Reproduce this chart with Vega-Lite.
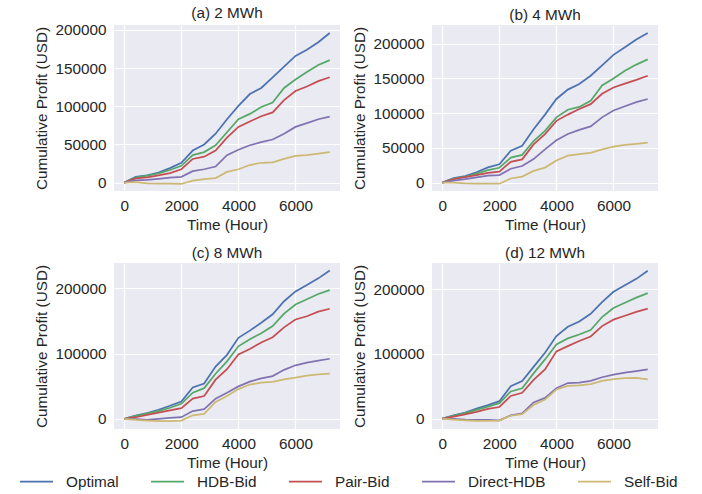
{
"$schema": "https://vega.github.io/schema/vega-lite/v6.json",
"background": "white",
"padding": {"left": 19, "top": 5, "right": 5, "bottom": 5},
"datasets": {"d": [
{"p":"a","s":"Optimal","t":0,"v":0},{"p":"a","s":"Optimal","t":400,"v":7500},{"p":"a","s":"Optimal","t":800,"v":9500},{"p":"a","s":"Optimal","t":1200,"v":13000},{"p":"a","s":"Optimal","t":1600,"v":19000},{"p":"a","s":"Optimal","t":2000,"v":26000},{"p":"a","s":"Optimal","t":2400,"v":42000},{"p":"a","s":"Optimal","t":2800,"v":50000},{"p":"a","s":"Optimal","t":3200,"v":64000},{"p":"a","s":"Optimal","t":3600,"v":83000},{"p":"a","s":"Optimal","t":4000,"v":100500},{"p":"a","s":"Optimal","t":4400,"v":116000},{"p":"a","s":"Optimal","t":4800,"v":124000},{"p":"a","s":"Optimal","t":5200,"v":138000},{"p":"a","s":"Optimal","t":5600,"v":152000},{"p":"a","s":"Optimal","t":6000,"v":166000},{"p":"a","s":"Optimal","t":6400,"v":174000},{"p":"a","s":"Optimal","t":6800,"v":184000},{"p":"a","s":"Optimal","t":7200,"v":196000},
{"p":"a","s":"HDB-Bid","t":0,"v":0},{"p":"a","s":"HDB-Bid","t":400,"v":6500},{"p":"a","s":"HDB-Bid","t":800,"v":9000},{"p":"a","s":"HDB-Bid","t":1200,"v":12000},{"p":"a","s":"HDB-Bid","t":1600,"v":16500},{"p":"a","s":"HDB-Bid","t":2000,"v":22000},{"p":"a","s":"HDB-Bid","t":2400,"v":36000},{"p":"a","s":"HDB-Bid","t":2800,"v":40000},{"p":"a","s":"HDB-Bid","t":3200,"v":49000},{"p":"a","s":"HDB-Bid","t":3600,"v":66000},{"p":"a","s":"HDB-Bid","t":4000,"v":83000},{"p":"a","s":"HDB-Bid","t":4400,"v":90000},{"p":"a","s":"HDB-Bid","t":4800,"v":99000},{"p":"a","s":"HDB-Bid","t":5200,"v":105000},{"p":"a","s":"HDB-Bid","t":5600,"v":124000},{"p":"a","s":"HDB-Bid","t":6000,"v":135000},{"p":"a","s":"HDB-Bid","t":6400,"v":145000},{"p":"a","s":"HDB-Bid","t":6800,"v":154000},{"p":"a","s":"HDB-Bid","t":7200,"v":160500},
{"p":"a","s":"Pair-Bid","t":0,"v":0},{"p":"a","s":"Pair-Bid","t":400,"v":5500},{"p":"a","s":"Pair-Bid","t":800,"v":7000},{"p":"a","s":"Pair-Bid","t":1200,"v":9500},{"p":"a","s":"Pair-Bid","t":1600,"v":12500},{"p":"a","s":"Pair-Bid","t":2000,"v":17500},{"p":"a","s":"Pair-Bid","t":2400,"v":31000},{"p":"a","s":"Pair-Bid","t":2800,"v":34000},{"p":"a","s":"Pair-Bid","t":3200,"v":42000},{"p":"a","s":"Pair-Bid","t":3600,"v":59000},{"p":"a","s":"Pair-Bid","t":4000,"v":73000},{"p":"a","s":"Pair-Bid","t":4400,"v":80000},{"p":"a","s":"Pair-Bid","t":4800,"v":87000},{"p":"a","s":"Pair-Bid","t":5200,"v":92000},{"p":"a","s":"Pair-Bid","t":5600,"v":108000},{"p":"a","s":"Pair-Bid","t":6000,"v":120000},{"p":"a","s":"Pair-Bid","t":6400,"v":126000},{"p":"a","s":"Pair-Bid","t":6800,"v":133000},{"p":"a","s":"Pair-Bid","t":7200,"v":138000},
{"p":"a","s":"Direct-HDB","t":0,"v":0},{"p":"a","s":"Direct-HDB","t":400,"v":3000},{"p":"a","s":"Direct-HDB","t":800,"v":3500},{"p":"a","s":"Direct-HDB","t":1200,"v":5000},{"p":"a","s":"Direct-HDB","t":1600,"v":6500},{"p":"a","s":"Direct-HDB","t":2000,"v":7500},{"p":"a","s":"Direct-HDB","t":2400,"v":15000},{"p":"a","s":"Direct-HDB","t":2800,"v":17500},{"p":"a","s":"Direct-HDB","t":3200,"v":21000},{"p":"a","s":"Direct-HDB","t":3600,"v":36000},{"p":"a","s":"Direct-HDB","t":4000,"v":43000},{"p":"a","s":"Direct-HDB","t":4400,"v":49000},{"p":"a","s":"Direct-HDB","t":4800,"v":53000},{"p":"a","s":"Direct-HDB","t":5200,"v":56500},{"p":"a","s":"Direct-HDB","t":5600,"v":64000},{"p":"a","s":"Direct-HDB","t":6000,"v":73000},{"p":"a","s":"Direct-HDB","t":6400,"v":78000},{"p":"a","s":"Direct-HDB","t":6800,"v":83000},{"p":"a","s":"Direct-HDB","t":7200,"v":86500},
{"p":"a","s":"Self-Bid","t":0,"v":0},{"p":"a","s":"Self-Bid","t":400,"v":500},{"p":"a","s":"Self-Bid","t":800,"v":-1000},{"p":"a","s":"Self-Bid","t":1200,"v":-1500},{"p":"a","s":"Self-Bid","t":1600,"v":-1500},{"p":"a","s":"Self-Bid","t":2000,"v":-1800},{"p":"a","s":"Self-Bid","t":2400,"v":2500},{"p":"a","s":"Self-Bid","t":2800,"v":4500},{"p":"a","s":"Self-Bid","t":3200,"v":6000},{"p":"a","s":"Self-Bid","t":3600,"v":14000},{"p":"a","s":"Self-Bid","t":4000,"v":17500},{"p":"a","s":"Self-Bid","t":4400,"v":23000},{"p":"a","s":"Self-Bid","t":4800,"v":26000},{"p":"a","s":"Self-Bid","t":5200,"v":26500},{"p":"a","s":"Self-Bid","t":5600,"v":31000},{"p":"a","s":"Self-Bid","t":6000,"v":35000},{"p":"a","s":"Self-Bid","t":6400,"v":36000},{"p":"a","s":"Self-Bid","t":6800,"v":38000},{"p":"a","s":"Self-Bid","t":7200,"v":39800},
{"p":"b","s":"Optimal","t":0,"v":0},{"p":"b","s":"Optimal","t":400,"v":6500},{"p":"b","s":"Optimal","t":800,"v":9500},{"p":"b","s":"Optimal","t":1200,"v":15000},{"p":"b","s":"Optimal","t":1600,"v":22000},{"p":"b","s":"Optimal","t":2000,"v":26500},{"p":"b","s":"Optimal","t":2400,"v":46000},{"p":"b","s":"Optimal","t":2800,"v":53000},{"p":"b","s":"Optimal","t":3200,"v":77000},{"p":"b","s":"Optimal","t":3600,"v":98000},{"p":"b","s":"Optimal","t":4000,"v":120500},{"p":"b","s":"Optimal","t":4400,"v":134000},{"p":"b","s":"Optimal","t":4800,"v":142000},{"p":"b","s":"Optimal","t":5200,"v":154000},{"p":"b","s":"Optimal","t":5600,"v":169000},{"p":"b","s":"Optimal","t":6000,"v":184000},{"p":"b","s":"Optimal","t":6400,"v":195000},{"p":"b","s":"Optimal","t":6800,"v":206000},{"p":"b","s":"Optimal","t":7200,"v":215500},
{"p":"b","s":"HDB-Bid","t":0,"v":0},{"p":"b","s":"HDB-Bid","t":400,"v":6000},{"p":"b","s":"HDB-Bid","t":800,"v":8500},{"p":"b","s":"HDB-Bid","t":1200,"v":13000},{"p":"b","s":"HDB-Bid","t":1600,"v":18000},{"p":"b","s":"HDB-Bid","t":2000,"v":21500},{"p":"b","s":"HDB-Bid","t":2400,"v":36000},{"p":"b","s":"HDB-Bid","t":2800,"v":40000},{"p":"b","s":"HDB-Bid","t":3200,"v":60000},{"p":"b","s":"HDB-Bid","t":3600,"v":74700},{"p":"b","s":"HDB-Bid","t":4000,"v":94000},{"p":"b","s":"HDB-Bid","t":4400,"v":105000},{"p":"b","s":"HDB-Bid","t":4800,"v":109000},{"p":"b","s":"HDB-Bid","t":5200,"v":118000},{"p":"b","s":"HDB-Bid","t":5600,"v":140000},{"p":"b","s":"HDB-Bid","t":6000,"v":150000},{"p":"b","s":"HDB-Bid","t":6400,"v":161000},{"p":"b","s":"HDB-Bid","t":6800,"v":170000},{"p":"b","s":"HDB-Bid","t":7200,"v":177500},
{"p":"b","s":"Pair-Bid","t":0,"v":0},{"p":"b","s":"Pair-Bid","t":400,"v":5000},{"p":"b","s":"Pair-Bid","t":800,"v":8000},{"p":"b","s":"Pair-Bid","t":1200,"v":11000},{"p":"b","s":"Pair-Bid","t":1600,"v":14000},{"p":"b","s":"Pair-Bid","t":2000,"v":16000},{"p":"b","s":"Pair-Bid","t":2400,"v":30000},{"p":"b","s":"Pair-Bid","t":2800,"v":33500},{"p":"b","s":"Pair-Bid","t":3200,"v":55000},{"p":"b","s":"Pair-Bid","t":3600,"v":70000},{"p":"b","s":"Pair-Bid","t":4000,"v":89000},{"p":"b","s":"Pair-Bid","t":4400,"v":98000},{"p":"b","s":"Pair-Bid","t":4800,"v":106000},{"p":"b","s":"Pair-Bid","t":5200,"v":113000},{"p":"b","s":"Pair-Bid","t":5600,"v":128000},{"p":"b","s":"Pair-Bid","t":6000,"v":137000},{"p":"b","s":"Pair-Bid","t":6400,"v":142500},{"p":"b","s":"Pair-Bid","t":6800,"v":148000},{"p":"b","s":"Pair-Bid","t":7200,"v":154000},
{"p":"b","s":"Direct-HDB","t":0,"v":0},{"p":"b","s":"Direct-HDB","t":400,"v":3000},{"p":"b","s":"Direct-HDB","t":800,"v":5000},{"p":"b","s":"Direct-HDB","t":1200,"v":7500},{"p":"b","s":"Direct-HDB","t":1600,"v":10000},{"p":"b","s":"Direct-HDB","t":2000,"v":11000},{"p":"b","s":"Direct-HDB","t":2400,"v":20000},{"p":"b","s":"Direct-HDB","t":2800,"v":24000},{"p":"b","s":"Direct-HDB","t":3200,"v":34000},{"p":"b","s":"Direct-HDB","t":3600,"v":48000},{"p":"b","s":"Direct-HDB","t":4000,"v":61000},{"p":"b","s":"Direct-HDB","t":4400,"v":70000},{"p":"b","s":"Direct-HDB","t":4800,"v":76000},{"p":"b","s":"Direct-HDB","t":5200,"v":81000},{"p":"b","s":"Direct-HDB","t":5600,"v":94000},{"p":"b","s":"Direct-HDB","t":6000,"v":104000},{"p":"b","s":"Direct-HDB","t":6400,"v":110000},{"p":"b","s":"Direct-HDB","t":6800,"v":116000},{"p":"b","s":"Direct-HDB","t":7200,"v":120500},
{"p":"b","s":"Self-Bid","t":0,"v":0},{"p":"b","s":"Self-Bid","t":400,"v":0},{"p":"b","s":"Self-Bid","t":800,"v":-1000},{"p":"b","s":"Self-Bid","t":1200,"v":-1500},{"p":"b","s":"Self-Bid","t":1600,"v":-1500},{"p":"b","s":"Self-Bid","t":2000,"v":-1500},{"p":"b","s":"Self-Bid","t":2400,"v":6000},{"p":"b","s":"Self-Bid","t":2800,"v":8800},{"p":"b","s":"Self-Bid","t":3200,"v":17000},{"p":"b","s":"Self-Bid","t":3600,"v":21700},{"p":"b","s":"Self-Bid","t":4000,"v":32000},{"p":"b","s":"Self-Bid","t":4400,"v":39000},{"p":"b","s":"Self-Bid","t":4800,"v":41000},{"p":"b","s":"Self-Bid","t":5200,"v":43000},{"p":"b","s":"Self-Bid","t":5600,"v":48000},{"p":"b","s":"Self-Bid","t":6000,"v":52000},{"p":"b","s":"Self-Bid","t":6400,"v":54500},{"p":"b","s":"Self-Bid","t":6800,"v":56000},{"p":"b","s":"Self-Bid","t":7200,"v":57500},
{"p":"c","s":"Optimal","t":0,"v":0},{"p":"c","s":"Optimal","t":400,"v":5000},{"p":"c","s":"Optimal","t":800,"v":9000},{"p":"c","s":"Optimal","t":1200,"v":14000},{"p":"c","s":"Optimal","t":1600,"v":20000},{"p":"c","s":"Optimal","t":2000,"v":26500},{"p":"c","s":"Optimal","t":2400,"v":48000},{"p":"c","s":"Optimal","t":2800,"v":54000},{"p":"c","s":"Optimal","t":3200,"v":80000},{"p":"c","s":"Optimal","t":3600,"v":98000},{"p":"c","s":"Optimal","t":4000,"v":124000},{"p":"c","s":"Optimal","t":4400,"v":135000},{"p":"c","s":"Optimal","t":4800,"v":147000},{"p":"c","s":"Optimal","t":5200,"v":160000},{"p":"c","s":"Optimal","t":5600,"v":180000},{"p":"c","s":"Optimal","t":6000,"v":195000},{"p":"c","s":"Optimal","t":6400,"v":205000},{"p":"c","s":"Optimal","t":6800,"v":215000},{"p":"c","s":"Optimal","t":7200,"v":227000},
{"p":"c","s":"HDB-Bid","t":0,"v":0},{"p":"c","s":"HDB-Bid","t":400,"v":4500},{"p":"c","s":"HDB-Bid","t":800,"v":8500},{"p":"c","s":"HDB-Bid","t":1200,"v":12000},{"p":"c","s":"HDB-Bid","t":1600,"v":17000},{"p":"c","s":"HDB-Bid","t":2000,"v":23000},{"p":"c","s":"HDB-Bid","t":2400,"v":40000},{"p":"c","s":"HDB-Bid","t":2800,"v":47000},{"p":"c","s":"HDB-Bid","t":3200,"v":69000},{"p":"c","s":"HDB-Bid","t":3600,"v":88000},{"p":"c","s":"HDB-Bid","t":4000,"v":111000},{"p":"c","s":"HDB-Bid","t":4400,"v":122000},{"p":"c","s":"HDB-Bid","t":4800,"v":131000},{"p":"c","s":"HDB-Bid","t":5200,"v":142000},{"p":"c","s":"HDB-Bid","t":5600,"v":161000},{"p":"c","s":"HDB-Bid","t":6000,"v":175000},{"p":"c","s":"HDB-Bid","t":6400,"v":183000},{"p":"c","s":"HDB-Bid","t":6800,"v":191000},{"p":"c","s":"HDB-Bid","t":7200,"v":197000},
{"p":"c","s":"Pair-Bid","t":0,"v":0},{"p":"c","s":"Pair-Bid","t":400,"v":2500},{"p":"c","s":"Pair-Bid","t":800,"v":6000},{"p":"c","s":"Pair-Bid","t":1200,"v":9500},{"p":"c","s":"Pair-Bid","t":1600,"v":13000},{"p":"c","s":"Pair-Bid","t":2000,"v":16500},{"p":"c","s":"Pair-Bid","t":2400,"v":31000},{"p":"c","s":"Pair-Bid","t":2800,"v":35000},{"p":"c","s":"Pair-Bid","t":3200,"v":60000},{"p":"c","s":"Pair-Bid","t":3600,"v":76000},{"p":"c","s":"Pair-Bid","t":4000,"v":98500},{"p":"c","s":"Pair-Bid","t":4400,"v":107000},{"p":"c","s":"Pair-Bid","t":4800,"v":117000},{"p":"c","s":"Pair-Bid","t":5200,"v":125000},{"p":"c","s":"Pair-Bid","t":5600,"v":140000},{"p":"c","s":"Pair-Bid","t":6000,"v":152000},{"p":"c","s":"Pair-Bid","t":6400,"v":157000},{"p":"c","s":"Pair-Bid","t":6800,"v":164000},{"p":"c","s":"Pair-Bid","t":7200,"v":168500},
{"p":"c","s":"Direct-HDB","t":0,"v":0},{"p":"c","s":"Direct-HDB","t":400,"v":-500},{"p":"c","s":"Direct-HDB","t":800,"v":-1500},{"p":"c","s":"Direct-HDB","t":1200,"v":0},{"p":"c","s":"Direct-HDB","t":1600,"v":1500},{"p":"c","s":"Direct-HDB","t":2000,"v":2600},{"p":"c","s":"Direct-HDB","t":2400,"v":12000},{"p":"c","s":"Direct-HDB","t":2800,"v":15000},{"p":"c","s":"Direct-HDB","t":3200,"v":31000},{"p":"c","s":"Direct-HDB","t":3600,"v":40000},{"p":"c","s":"Direct-HDB","t":4000,"v":49700},{"p":"c","s":"Direct-HDB","t":4400,"v":57000},{"p":"c","s":"Direct-HDB","t":4800,"v":62000},{"p":"c","s":"Direct-HDB","t":5200,"v":65500},{"p":"c","s":"Direct-HDB","t":5600,"v":75000},{"p":"c","s":"Direct-HDB","t":6000,"v":82000},{"p":"c","s":"Direct-HDB","t":6400,"v":86000},{"p":"c","s":"Direct-HDB","t":6800,"v":89000},{"p":"c","s":"Direct-HDB","t":7200,"v":92000},
{"p":"c","s":"Self-Bid","t":0,"v":0},{"p":"c","s":"Self-Bid","t":400,"v":-1500},{"p":"c","s":"Self-Bid","t":800,"v":-2500},{"p":"c","s":"Self-Bid","t":1200,"v":-3500},{"p":"c","s":"Self-Bid","t":1600,"v":-3500},{"p":"c","s":"Self-Bid","t":2000,"v":-2600},{"p":"c","s":"Self-Bid","t":2400,"v":5500},{"p":"c","s":"Self-Bid","t":2800,"v":7500},{"p":"c","s":"Self-Bid","t":3200,"v":26000},{"p":"c","s":"Self-Bid","t":3600,"v":35000},{"p":"c","s":"Self-Bid","t":4000,"v":45600},{"p":"c","s":"Self-Bid","t":4400,"v":52500},{"p":"c","s":"Self-Bid","t":4800,"v":55500},{"p":"c","s":"Self-Bid","t":5200,"v":56500},{"p":"c","s":"Self-Bid","t":5600,"v":60500},{"p":"c","s":"Self-Bid","t":6000,"v":63000},{"p":"c","s":"Self-Bid","t":6400,"v":66000},{"p":"c","s":"Self-Bid","t":6800,"v":68000},{"p":"c","s":"Self-Bid","t":7200,"v":69200},
{"p":"d","s":"Optimal","t":0,"v":0},{"p":"d","s":"Optimal","t":400,"v":5000},{"p":"d","s":"Optimal","t":800,"v":9500},{"p":"d","s":"Optimal","t":1200,"v":15500},{"p":"d","s":"Optimal","t":1600,"v":21000},{"p":"d","s":"Optimal","t":2000,"v":27000},{"p":"d","s":"Optimal","t":2400,"v":50000},{"p":"d","s":"Optimal","t":2800,"v":58000},{"p":"d","s":"Optimal","t":3200,"v":80000},{"p":"d","s":"Optimal","t":3600,"v":101800},{"p":"d","s":"Optimal","t":4000,"v":127600},{"p":"d","s":"Optimal","t":4400,"v":142000},{"p":"d","s":"Optimal","t":4800,"v":150000},{"p":"d","s":"Optimal","t":5200,"v":162000},{"p":"d","s":"Optimal","t":5600,"v":180000},{"p":"d","s":"Optimal","t":6000,"v":196000},{"p":"d","s":"Optimal","t":6400,"v":206000},{"p":"d","s":"Optimal","t":6800,"v":216000},{"p":"d","s":"Optimal","t":7200,"v":228500},
{"p":"d","s":"HDB-Bid","t":0,"v":0},{"p":"d","s":"HDB-Bid","t":400,"v":4500},{"p":"d","s":"HDB-Bid","t":800,"v":8500},{"p":"d","s":"HDB-Bid","t":1200,"v":13500},{"p":"d","s":"HDB-Bid","t":1600,"v":18500},{"p":"d","s":"HDB-Bid","t":2000,"v":24000},{"p":"d","s":"HDB-Bid","t":2400,"v":42000},{"p":"d","s":"HDB-Bid","t":2800,"v":47000},{"p":"d","s":"HDB-Bid","t":3200,"v":70000},{"p":"d","s":"HDB-Bid","t":3600,"v":91500},{"p":"d","s":"HDB-Bid","t":4000,"v":114700},{"p":"d","s":"HDB-Bid","t":4400,"v":124000},{"p":"d","s":"HDB-Bid","t":4800,"v":130000},{"p":"d","s":"HDB-Bid","t":5200,"v":137000},{"p":"d","s":"HDB-Bid","t":5600,"v":157000},{"p":"d","s":"HDB-Bid","t":6000,"v":171000},{"p":"d","s":"HDB-Bid","t":6400,"v":179000},{"p":"d","s":"HDB-Bid","t":6800,"v":187000},{"p":"d","s":"HDB-Bid","t":7200,"v":194000},
{"p":"d","s":"Pair-Bid","t":0,"v":0},{"p":"d","s":"Pair-Bid","t":400,"v":3000},{"p":"d","s":"Pair-Bid","t":800,"v":6500},{"p":"d","s":"Pair-Bid","t":1200,"v":10500},{"p":"d","s":"Pair-Bid","t":1600,"v":15000},{"p":"d","s":"Pair-Bid","t":2000,"v":18000},{"p":"d","s":"Pair-Bid","t":2400,"v":35000},{"p":"d","s":"Pair-Bid","t":2800,"v":40000},{"p":"d","s":"Pair-Bid","t":3200,"v":60000},{"p":"d","s":"Pair-Bid","t":3600,"v":76000},{"p":"d","s":"Pair-Bid","t":4000,"v":104000},{"p":"d","s":"Pair-Bid","t":4400,"v":112000},{"p":"d","s":"Pair-Bid","t":4800,"v":120000},{"p":"d","s":"Pair-Bid","t":5200,"v":127000},{"p":"d","s":"Pair-Bid","t":5600,"v":143000},{"p":"d","s":"Pair-Bid","t":6000,"v":153000},{"p":"d","s":"Pair-Bid","t":6400,"v":159000},{"p":"d","s":"Pair-Bid","t":6800,"v":165000},{"p":"d","s":"Pair-Bid","t":7200,"v":170000},
{"p":"d","s":"Direct-HDB","t":0,"v":0},{"p":"d","s":"Direct-HDB","t":400,"v":-500},{"p":"d","s":"Direct-HDB","t":800,"v":-1500},{"p":"d","s":"Direct-HDB","t":1200,"v":-2000},{"p":"d","s":"Direct-HDB","t":1600,"v":-2000},{"p":"d","s":"Direct-HDB","t":2000,"v":-2600},{"p":"d","s":"Direct-HDB","t":2400,"v":5000},{"p":"d","s":"Direct-HDB","t":2800,"v":8000},{"p":"d","s":"Direct-HDB","t":3200,"v":25000},{"p":"d","s":"Direct-HDB","t":3600,"v":32000},{"p":"d","s":"Direct-HDB","t":4000,"v":47000},{"p":"d","s":"Direct-HDB","t":4400,"v":55000},{"p":"d","s":"Direct-HDB","t":4800,"v":55500},{"p":"d","s":"Direct-HDB","t":5200,"v":58500},{"p":"d","s":"Direct-HDB","t":5600,"v":64000},{"p":"d","s":"Direct-HDB","t":6000,"v":68000},{"p":"d","s":"Direct-HDB","t":6400,"v":71000},{"p":"d","s":"Direct-HDB","t":6800,"v":73500},{"p":"d","s":"Direct-HDB","t":7200,"v":76000},
{"p":"d","s":"Self-Bid","t":0,"v":0},{"p":"d","s":"Self-Bid","t":400,"v":-1500},{"p":"d","s":"Self-Bid","t":800,"v":-2500},{"p":"d","s":"Self-Bid","t":1200,"v":-3500},{"p":"d","s":"Self-Bid","t":1600,"v":-3500},{"p":"d","s":"Self-Bid","t":2000,"v":-3000},{"p":"d","s":"Self-Bid","t":2400,"v":4500},{"p":"d","s":"Self-Bid","t":2800,"v":7000},{"p":"d","s":"Self-Bid","t":3200,"v":21000},{"p":"d","s":"Self-Bid","t":3600,"v":29500},{"p":"d","s":"Self-Bid","t":4000,"v":45000},{"p":"d","s":"Self-Bid","t":4400,"v":50500},{"p":"d","s":"Self-Bid","t":4800,"v":51500},{"p":"d","s":"Self-Bid","t":5200,"v":53500},{"p":"d","s":"Self-Bid","t":5600,"v":58500},{"p":"d","s":"Self-Bid","t":6000,"v":61000},{"p":"d","s":"Self-Bid","t":6400,"v":62500},{"p":"d","s":"Self-Bid","t":6800,"v":63000},{"p":"d","s":"Self-Bid","t":7200,"v":60500}
]},
"data": {"name": "d"},
"config": {
  "font": "Liberation Sans",
  "view": {"fill": "#EAEAF2", "stroke": null},
  "axis": {"domain": false, "ticks": false, "labelFontSize": 15.3, "titleFontSize": 15.3, "titleFontWeight": "normal", "labelColor": "#262626", "titleColor": "#262626", "gridColor": "#FFFFFF", "gridWidth": 1.2},
  "axisX": {"labelPadding": 7, "titlePadding": 4},
  "axisY": {"labelPadding": 8, "titlePadding": 5},
  "title": {"fontSize": 15.3, "fontWeight": "normal", "color": "#262626", "offset": 2, "anchor": "middle"},
  "line": {"strokeWidth": 1.75}
},
"columns": 2,
"spacing": {"row": 72, "column": 92},
"bounds": "flush",
"resolve": {"scale": {"x": "independent", "y": "independent", "color": "shared"}},
"concat": [
  {"title": "(a) 2 MWh", "width": 226, "height": 166,
   "transform": [{"filter": "datum.p == 'a'"}],
   "mark": {"type": "line", "clip": true},
   "encoding": {
     "x": {"field": "t", "type": "quantitative", "scale": {"domain": [-360, 7560], "nice": false, "zero": false}, "axis": {"values": [0, 2000, 4000, 6000], "format": "d", "title": "Time (Hour)"}},
     "y": {"field": "v", "type": "quantitative", "scale": {"domain": [-11000, 206500], "nice": false, "zero": false}, "axis": {"values": [0, 50000, 100000, 150000, 200000], "format": "d", "title": "Cumulative Profit (USD)"}},
     "color": {"field": "s", "type": "nominal", "sort": null, "scale": {"domain": ["Optimal", "HDB-Bid", "Pair-Bid", "Direct-HDB", "Self-Bid"], "range": ["#4C72B0", "#55A868", "#C44E52", "#8172B2", "#CCB974"]},
       "legend": {"orient": "none", "legendX": -95, "legendY": 439, "direction": "horizontal", "title": null, "symbolType": "stroke", "symbolSize": 1089, "symbolStrokeWidth": 2, "labelFontSize": 15.3, "labelOffset": 12, "columnPadding": 28, "labelColor": "#262626"}}
   }},
  {"title": "(b) 4 MWh", "width": 226, "height": 166,
   "transform": [{"filter": "datum.p == 'b'"}],
   "mark": {"type": "line", "clip": true},
   "encoding": {
     "x": {"field": "t", "type": "quantitative", "scale": {"domain": [-360, 7560], "nice": false, "zero": false}, "axis": {"values": [0, 2000, 4000, 6000], "format": "d", "title": "Time (Hour)"}},
     "y": {"field": "v", "type": "quantitative", "scale": {"domain": [-12000, 227000], "nice": false, "zero": false}, "axis": {"values": [0, 50000, 100000, 150000, 200000], "format": "d", "title": "Cumulative Profit (USD)"}},
     "color": {"field": "s", "type": "nominal", "sort": null}
   }},
  {"title": "(c) 8 MWh", "width": 226, "height": 166,
   "transform": [{"filter": "datum.p == 'c'"}],
   "mark": {"type": "line", "clip": true},
   "encoding": {
     "x": {"field": "t", "type": "quantitative", "scale": {"domain": [-360, 7560], "nice": false, "zero": false}, "axis": {"values": [0, 2000, 4000, 6000], "format": "d", "title": "Time (Hour)"}},
     "y": {"field": "v", "type": "quantitative", "scale": {"domain": [-15500, 238500], "nice": false, "zero": false}, "axis": {"values": [0, 100000, 200000], "format": "d", "title": "Cumulative Profit (USD)"}},
     "color": {"field": "s", "type": "nominal", "sort": null}
   }},
  {"title": "(d) 12 MWh", "width": 226, "height": 166,
   "transform": [{"filter": "datum.p == 'd'"}],
   "mark": {"type": "line", "clip": true},
   "encoding": {
     "x": {"field": "t", "type": "quantitative", "scale": {"domain": [-360, 7560], "nice": false, "zero": false}, "axis": {"values": [0, 2000, 4000, 6000], "format": "d", "title": "Time (Hour)"}},
     "y": {"field": "v", "type": "quantitative", "scale": {"domain": [-16000, 240500], "nice": false, "zero": false}, "axis": {"values": [0, 100000, 200000], "format": "d", "title": "Cumulative Profit (USD)"}},
     "color": {"field": "s", "type": "nominal", "sort": null}
   }}
]
}
